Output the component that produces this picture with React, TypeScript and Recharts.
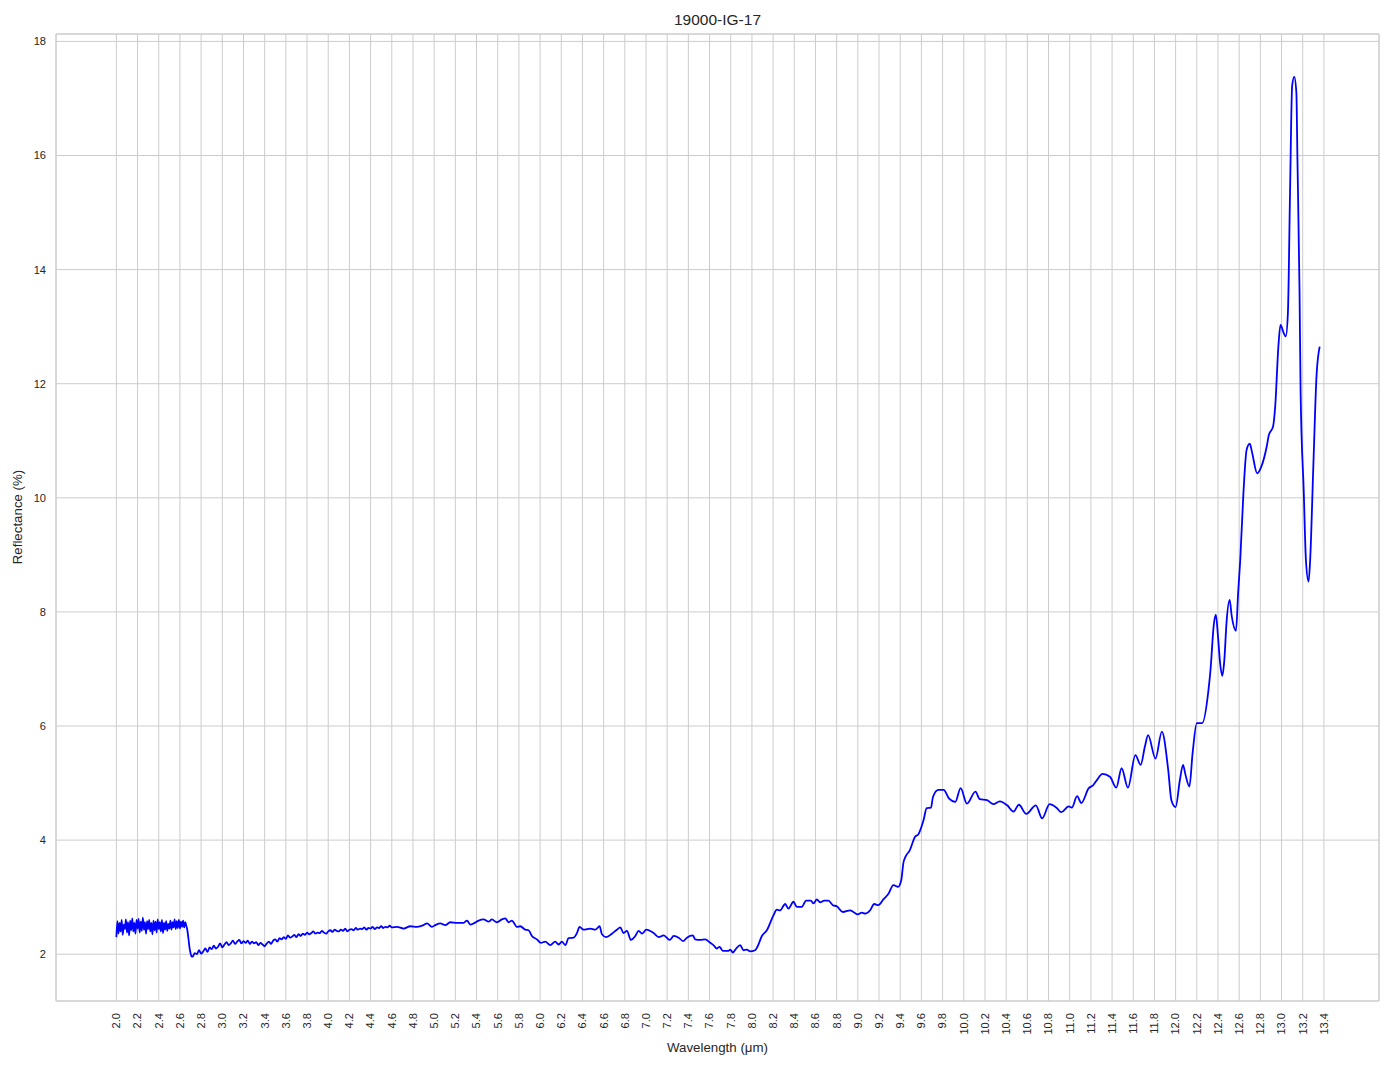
import { CartesianGrid, Line, LineChart, ReferenceArea, XAxis, YAxis } from 'recharts';

const TITLE = '19000-IG-17';
const X_LABEL = 'Wavelength (μm)';
const Y_LABEL = 'Reflectance (%)';

const FONT = '"Liberation Sans", Arial, sans-serif';
const TEXT_COLOR = '#262626';
const GRID_COLOR = '#cccccc';

const X_DOMAIN: [number, number] = [1.43, 13.92];
const Y_DOMAIN: [number, number] = [1.18, 18.13];

const X_TICKS = [
  2.0, 2.2, 2.4, 2.6, 2.8, 3.0, 3.2, 3.4, 3.6, 3.8, 4.0, 4.2, 4.4, 4.6, 4.8, 5.0, 5.2, 5.4, 5.6, 5.8,
  6.0, 6.2, 6.4, 6.6, 6.8, 7.0, 7.2, 7.4, 7.6, 7.8, 8.0, 8.2, 8.4, 8.6, 8.8, 9.0, 9.2, 9.4, 9.6, 9.8,
  10.0, 10.2, 10.4, 10.6, 10.8, 11.0, 11.2, 11.4, 11.6, 11.8, 12.0, 12.2, 12.4, 12.6, 12.8, 13.0, 13.2, 13.4,
];
const Y_TICKS = [2, 4, 6, 8, 10, 12, 14, 16, 18];

// noisy detector start, one reading every 0.01 µm from 2.00 to 2.65
const NEAR_IR_START = 2.0;
const NEAR_IR_STEP = 0.01;
const nearIr = [
  2.30, 2.58, 2.36, 2.55, 2.40, 2.60, 2.34, 2.52, 2.44, 2.61,
  2.38, 2.56, 2.33, 2.59, 2.42, 2.63, 2.40, 2.55, 2.36, 2.60,
  2.45, 2.62, 2.38, 2.57, 2.41, 2.64, 2.43, 2.56, 2.36, 2.58,
  2.44, 2.60, 2.40, 2.55, 2.35, 2.59, 2.42, 2.57, 2.38, 2.61,
  2.44, 2.56, 2.40, 2.60, 2.37, 2.55, 2.43, 2.58, 2.41, 2.53,
  2.45, 2.59, 2.43, 2.56, 2.47, 2.61, 2.44, 2.58, 2.46, 2.60,
  2.45, 2.57, 2.48, 2.59, 2.47, 2.56,
];

// step down around 2.7 µm
const dropEdge: [number, number][] = [
  [2.66, 2.5], [2.67, 2.42], [2.68, 2.28], [2.69, 2.12], [2.7, 2.02], [2.71, 1.96],
];

// 2.72 .. 4.60 µm, every 0.02 µm
const SWIR_START = 2.72;
const SWIR_STEP = 0.02;
const swir = [
  1.96, 2.02, 2.00, 2.07, 2.01, 2.05, 2.10, 2.04, 2.12, 2.09,
  2.15, 2.10, 2.13, 2.19, 2.12, 2.17, 2.21, 2.16, 2.19, 2.24,
  2.18, 2.22, 2.25, 2.19, 2.23, 2.20, 2.24, 2.18, 2.22, 2.19,
  2.21, 2.16, 2.20, 2.17, 2.14, 2.19, 2.22, 2.18, 2.24, 2.26,
  2.22, 2.28, 2.26, 2.30, 2.27, 2.33, 2.29, 2.31, 2.34, 2.30,
  2.35, 2.32, 2.36, 2.34, 2.38, 2.35, 2.37, 2.40, 2.36, 2.38,
  2.37, 2.41, 2.38, 2.36, 2.40, 2.42, 2.39, 2.43, 2.41, 2.40,
  2.43, 2.41, 2.45, 2.40, 2.43, 2.44, 2.42, 2.46, 2.43, 2.45,
  2.44, 2.47, 2.43, 2.46, 2.45, 2.48, 2.44, 2.47, 2.46, 2.49,
  2.46, 2.48, 2.47, 2.50, 2.47,
];

// [wavelength µm, reflectance %]
const midA: [number, number][] = [
  [4.649, 2.48], [4.712, 2.45], [4.775, 2.49], [4.838, 2.48], [4.9, 2.51], [4.932, 2.54],
  [4.979, 2.48], [5.011, 2.51], [5.058, 2.54], [5.105, 2.51], [5.152, 2.56], [5.215, 2.55],
  [5.278, 2.55], [5.31, 2.59], [5.341, 2.52], [5.373, 2.54], [5.42, 2.59], [5.467, 2.61],
  [5.514, 2.57], [5.545, 2.61], [5.592, 2.56], [5.639, 2.61], [5.671, 2.63], [5.703, 2.56],
  [5.734, 2.59], [5.781, 2.48], [5.813, 2.49], [5.86, 2.43], [5.891, 2.42], [5.923, 2.32],
  [5.97, 2.26], [6.008, 2.2], [6.049, 2.22], [6.096, 2.16], [6.143, 2.22], [6.175, 2.17],
  [6.206, 2.22], [6.238, 2.16], [6.269, 2.28], [6.316, 2.29], [6.348, 2.37], [6.373, 2.48],
  [6.411, 2.43], [6.474, 2.45], [6.521, 2.43], [6.562, 2.49], [6.584, 2.35], [6.625, 2.3],
  [6.678, 2.36], [6.725, 2.43], [6.757, 2.47], [6.788, 2.37], [6.82, 2.41], [6.858, 2.25],
  [6.899, 2.32], [6.931, 2.41], [6.962, 2.36], [7.003, 2.43], [7.072, 2.37], [7.12, 2.3],
  [7.167, 2.33], [7.224, 2.25], [7.262, 2.32], [7.309, 2.29], [7.35, 2.23], [7.386, 2.29],
];

const midB: [number, number][] = [
  [7.443, 2.33], [7.464, 2.26], [7.511, 2.25], [7.559, 2.26], [7.606, 2.2], [7.637, 2.16],
  [7.669, 2.1], [7.694, 2.13], [7.725, 2.06], [7.779, 2.06], [7.795, 2.08], [7.82, 2.03],
  [7.851, 2.1], [7.889, 2.16], [7.92, 2.07], [7.952, 2.08], [7.983, 2.05], [8.03, 2.07],
  [8.052, 2.13], [8.094, 2.32], [8.141, 2.42], [8.203, 2.68], [8.235, 2.78], [8.266, 2.77],
  [8.314, 2.88], [8.345, 2.8], [8.392, 2.92], [8.424, 2.83], [8.471, 2.83], [8.512, 2.94],
  [8.556, 2.94], [8.581, 2.89], [8.613, 2.96], [8.644, 2.91], [8.682, 2.94], [8.722, 2.94],
  [8.764, 2.86], [8.801, 2.84], [8.858, 2.74], [8.927, 2.77], [8.958, 2.74], [9.0, 2.7],
  [9.037, 2.73], [9.069, 2.71], [9.116, 2.77], [9.154, 2.88], [9.194, 2.86], [9.241, 2.96],
  [9.289, 3.06], [9.336, 3.21], [9.38, 3.18],
];

const thermal: [number, number][] = [
  [9.41, 3.3], [9.43, 3.6], [9.45, 3.71], [9.49, 3.82], [9.54, 4.06], [9.57, 4.1],
  [9.62, 4.35], [9.65, 4.56], [9.69, 4.57], [9.71, 4.76], [9.76, 4.88], [9.81, 4.88],
  [9.86, 4.73], [9.92, 4.67], [9.97, 4.91], [10.03, 4.64], [10.11, 4.85], [10.15, 4.72],
  [10.22, 4.7], [10.28, 4.63], [10.34, 4.68], [10.41, 4.61], [10.47, 4.5], [10.52, 4.62],
  [10.59, 4.46], [10.68, 4.61], [10.74, 4.38], [10.81, 4.63], [10.88, 4.56], [10.92, 4.49],
  [10.99, 4.59], [11.02, 4.57], [11.07, 4.77], [11.11, 4.65], [11.18, 4.91], [11.22, 4.96],
  [11.26, 5.06], [11.31, 5.16], [11.38, 5.11], [11.44, 4.92], [11.49, 5.26], [11.55, 4.92],
  [11.62, 5.49], [11.67, 5.32], [11.71, 5.64], [11.74, 5.84], [11.81, 5.43], [11.87, 5.9],
  [11.93, 5.23], [11.96, 4.7],
];

const farEdge: [number, number][] = [
  [12.0, 4.58], [12.04, 5.05], [12.07, 5.32], [12.09, 5.17], [12.13, 4.94], [12.16, 5.52],
  [12.2, 6.05], [12.25, 6.05], [12.31, 6.63], [12.33, 7.0], [12.36, 7.77], [12.38, 7.95],
  [12.4, 7.57], [12.42, 7.1], [12.44, 6.88], [12.46, 7.16], [12.48, 7.8], [12.51, 8.21],
  [12.53, 7.92], [12.57, 7.67], [12.59, 8.33], [12.61, 8.91], [12.64, 10.08], [12.67, 10.84],
  [12.7, 10.95], [12.72, 10.81], [12.77, 10.43], [12.81, 10.55], [12.86, 10.9], [12.88, 11.1],
  [12.92, 11.25], [12.94, 11.6], [12.97, 12.65], [12.99, 13.03], [13.02, 12.89], [13.04, 12.83],
  [13.06, 13.24], [13.08, 15.34], [13.1, 17.22], [13.12, 17.38], [13.14, 17.1], [13.15, 15.93],
  [13.17, 13.59], [13.18, 11.84], [13.21, 10.09], [13.23, 8.91], [13.255, 8.53], [13.27, 8.91],
  [13.3, 10.55], [13.33, 12.13], [13.36, 12.65],
];

type Row = { w: number; r: number };

const fromSteps = (start: number, step: number, values: number[]): Row[] =>
  values.map((r, i) => ({ w: +(start + i * step).toFixed(3), r }));

const fromPairs = (pairs: [number, number][]): Row[] => pairs.map(([w, r]) => ({ w, r }));

const data: Row[] = [
  ...fromSteps(NEAR_IR_START, NEAR_IR_STEP, nearIr),
  ...fromPairs(dropEdge),
  ...fromSteps(SWIR_START, SWIR_STEP, swir),
  ...fromPairs(midA),
  ...fromPairs(midB),
  ...fromPairs(thermal),
  ...fromPairs(farEdge),
];

const XTick = ({ x, y, payload }: any) => (
  <text
    x={x}
    y={y}
    transform={`rotate(-90, ${x}, ${y})`}
    textAnchor="end"
    dy="0.35em"
    fontSize={11.1}
    fontFamily={FONT}
    fill={TEXT_COLOR}
  >
    {Number(payload.value).toFixed(1)}
  </text>
);

export default function App() {
  return (
    <div
      style={{
        position: 'absolute',
        left: 0,
        top: 0,
        width: 1394,
        height: 1069,
        background: '#ffffff',
        fontFamily: FONT,
        color: TEXT_COLOR,
      }}
    >
      <LineChart width={1394} height={1069} data={data} margin={{ top: 34, right: 15, bottom: 0, left: 0 }}>
        <CartesianGrid stroke={GRID_COLOR} strokeWidth={1} />
        <XAxis
          dataKey="w"
          type="number"
          domain={X_DOMAIN}
          allowDataOverflow
          ticks={X_TICKS}
          interval={0}
          height={68}
          axisLine={false}
          tickLine={false}
          tickSize={0}
          tickMargin={12}
          tick={<XTick />}
        />
        <YAxis
          type="number"
          domain={Y_DOMAIN}
          allowDataOverflow
          ticks={Y_TICKS}
          interval={0}
          width={56}
          axisLine={false}
          tickLine={false}
          tickSize={0}
          tickMargin={10}
          tick={{ fontSize: 11.1, fill: TEXT_COLOR, fontFamily: FONT }}
        />
        <ReferenceArea
          x1={X_DOMAIN[0]}
          x2={X_DOMAIN[1]}
          y1={Y_DOMAIN[0]}
          y2={Y_DOMAIN[1]}
          fill="none"
          stroke={GRID_COLOR}
          strokeWidth={1}
        />
        <Line
          type="monotone"
          dataKey="r"
          stroke="#0000ff"
          strokeWidth={1.8}
          dot={false}
          isAnimationActive={false}
        />
      </LineChart>
      <div
        style={{
          position: 'absolute',
          left: 56,
          width: 1323,
          top: 12,
          textAlign: 'center',
          fontSize: 15.5,
          lineHeight: '16px',
        }}
      >
        {TITLE}
      </div>
      <div
        style={{
          position: 'absolute',
          left: 56,
          width: 1323,
          top: 1041,
          textAlign: 'center',
          fontSize: 13.3,
          lineHeight: '14px',
        }}
      >
        {X_LABEL}
      </div>
      <div
        style={{
          position: 'absolute',
          left: 18,
          top: 517,
          transform: 'translate(-50%, -50%) rotate(-90deg)',
          whiteSpace: 'nowrap',
          fontSize: 13.3,
          lineHeight: '14px',
        }}
      >
        {Y_LABEL}
      </div>
    </div>
  );
}
